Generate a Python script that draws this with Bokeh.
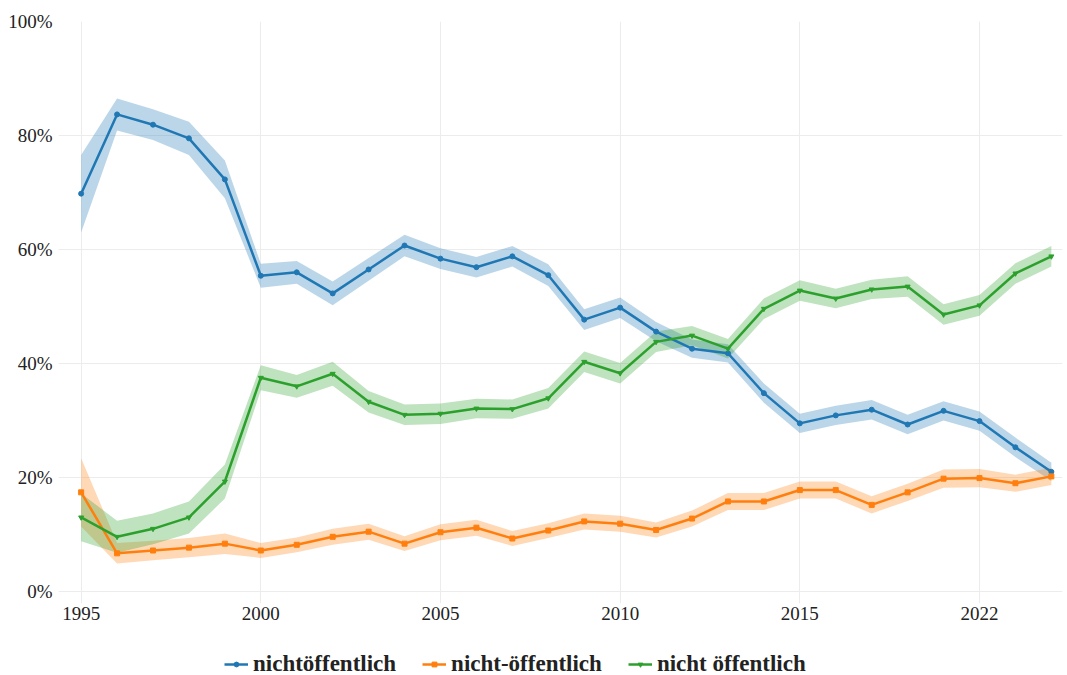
from bokeh.plotting import figure
from bokeh.models import Range1d, FixedTicker, Legend, LegendItem, ColumnDataSource
from bokeh.layouts import column
from bokeh.embed import file_html
from bokeh.resources import INLINE

years = list(range(1995, 2023))
series_names = ["nichtöffentlich", "nicht-öffentlich", "nicht öffentlich"]

blue = [69.8, 83.7, 81.9, 79.5, 72.3, 55.4, 56.0, 52.3, 56.5, 60.7, 58.4, 56.9, 58.8, 55.5,
        47.7, 49.8, 45.6, 42.6, 41.8, 34.8, 29.5, 30.9, 31.9, 29.3, 31.7, 29.9, 25.3, 21.0]
orange = [17.4, 6.7, 7.2, 7.7, 8.4, 7.2, 8.2, 9.6, 10.5, 8.4, 10.4, 11.2, 9.3, 10.7,
          12.3, 11.9, 10.8, 12.8, 15.8, 15.8, 17.8, 17.8, 15.2, 17.4, 19.8, 19.9, 19.0, 20.2]
green = [13.0, 9.6, 11.0, 13.0, 19.3, 37.5, 36.0, 38.2, 33.3, 31.0, 31.2, 32.1, 32.0, 33.9,
         40.3, 38.3, 43.8, 44.9, 42.6, 49.6, 52.8, 51.4, 53.0, 53.5, 48.6, 50.2, 55.8, 58.8]

blue_ci = [6.8, 2.8, 2.7, 2.9, 3.3, 2.1, 2.0, 2.1, 2.0, 1.9, 1.8, 1.8, 1.8, 1.9,
           1.8, 1.8, 1.7, 1.6, 1.6, 1.7, 1.7, 1.7, 1.7, 1.7, 1.7, 1.7, 1.7, 1.6]
orange_ci = [6.0, 1.8, 1.7, 1.7, 1.8, 1.3, 1.3, 1.4, 1.4, 1.3, 1.4, 1.4, 1.3, 1.3,
             1.4, 1.4, 1.3, 1.4, 1.5, 1.5, 1.5, 1.5, 1.5, 1.5, 1.6, 1.6, 1.5, 1.5]
green_ci = [4.2, 2.8, 2.7, 2.8, 3.0, 2.2, 2.0, 2.1, 1.9, 1.8, 1.8, 1.7, 1.7, 1.8,
            1.8, 1.8, 1.8, 1.7, 1.7, 1.8, 1.8, 1.7, 1.7, 1.8, 1.8, 1.8, 1.8, 1.8]

x_ticks = [1995, 2000, 2005, 2010, 2015, 2020]
x_tick_labels = ["1995", "2000", "2005", "2010", "2015", "2022"]
y_ticks = [0, 20, 40, 60, 80, 100]
y_tick_labels = ["0%", "20%", "40%", "60%", "80%", "100%"]

colors = ["#1f77b4", "#ff7f0e", "#2ca02c"]
markers = ["circle", "square", "inverted_triangle"]
marker_sizes = [5, 5, 5]
FONT = "Liberation Serif"

p = figure(frame_width=1004, frame_height=582, output_backend="svg", toolbar_location=None,
           x_range=Range1d(1994.37, 2022.31), y_range=Range1d(-2.1, 100),
           min_border_left=58, min_border_top=21, min_border_right=5, min_border_bottom=42)
p.outline_line_color = None
p.background_fill_color = "white"
p.border_fill_color = "white"

p.xgrid.grid_line_color = "#ececec"
p.ygrid.grid_line_color = "#ececec"
p.xgrid.grid_line_width = 1
p.ygrid.grid_line_width = 1

p.xaxis.ticker = FixedTicker(ticks=x_ticks)
p.xaxis.major_label_overrides = {t: l for t, l in zip(x_ticks, x_tick_labels)}
p.yaxis.ticker = FixedTicker(ticks=y_ticks)
p.yaxis.major_label_overrides = {t: l for t, l in zip(y_ticks, y_tick_labels)}
for ax in (p.xaxis, p.yaxis):
    ax.axis_line_color = None
    ax.major_tick_line_color = None
    ax.minor_tick_line_color = None
    ax.major_tick_out = 0
    ax.major_tick_in = 0
    ax.major_label_text_font = FONT
    ax.major_label_text_font_size = "19px"
    ax.major_label_text_color = "#222222"
p.xaxis.major_label_standoff = 3
p.yaxis.major_label_standoff = 6

all_vals = [blue, orange, green]
all_ci = [blue_ci, orange_ci, green_ci]

for vals, ci, c in zip(all_vals, all_ci, colors):
    src = ColumnDataSource(dict(x=years, lo=[v - e for v, e in zip(vals, ci)],
                                hi=[v + e for v, e in zip(vals, ci)]))
    p.varea(x="x", y1="lo", y2="hi", source=src, fill_color=c, fill_alpha=0.3)

for vals, c, m, s in zip(all_vals, colors, markers, marker_sizes):
    src = ColumnDataSource(dict(x=years, y=vals))
    p.line(x="x", y="y", source=src, line_color=c, line_width=2.5)
    p.scatter(x="x", y="y", source=src, marker=m, size=s, fill_color=c, line_color=c)

# legend strip below the chart (proxy renderers hold no visible data)
lg = figure(width=1067, height=30, output_backend="svg", toolbar_location=None,
            x_range=Range1d(0, 1), y_range=Range1d(0, 1),
            x_axis_type=None, y_axis_type=None,
            min_border_left=0, min_border_right=0, min_border_top=0, min_border_bottom=0)
lg.outline_line_color = None
lg.xgrid.visible = False
lg.ygrid.visible = False
items = []
for name, c, m, s in zip(series_names, colors, markers, marker_sizes):
    proxy = ColumnDataSource(dict(x=[float("nan")], y=[float("nan")]))
    lr = lg.line(x="x", y="y", source=proxy, line_color=c, line_width=2.5)
    sr = lg.scatter(x="x", y="y", source=proxy, marker=m, size=s, fill_color=c, line_color=c)
    items.append(LegendItem(label=name, renderers=[lr, sr]))

legend = Legend(items=items, orientation="horizontal", location=(166, -2),
                label_text_font=FONT, label_text_font_style="bold",
                label_text_font_size="23px", label_text_color="#222222",
                border_line_color=None, background_fill_alpha=0,
                glyph_width=24, glyph_height=12, label_standoff=5, spacing=26,
                padding=0, margin=0)
lg.add_layout(legend, "center")

layout = column(p, lg, spacing=0)
open("out.html", "w").write(file_html(layout, INLINE))
